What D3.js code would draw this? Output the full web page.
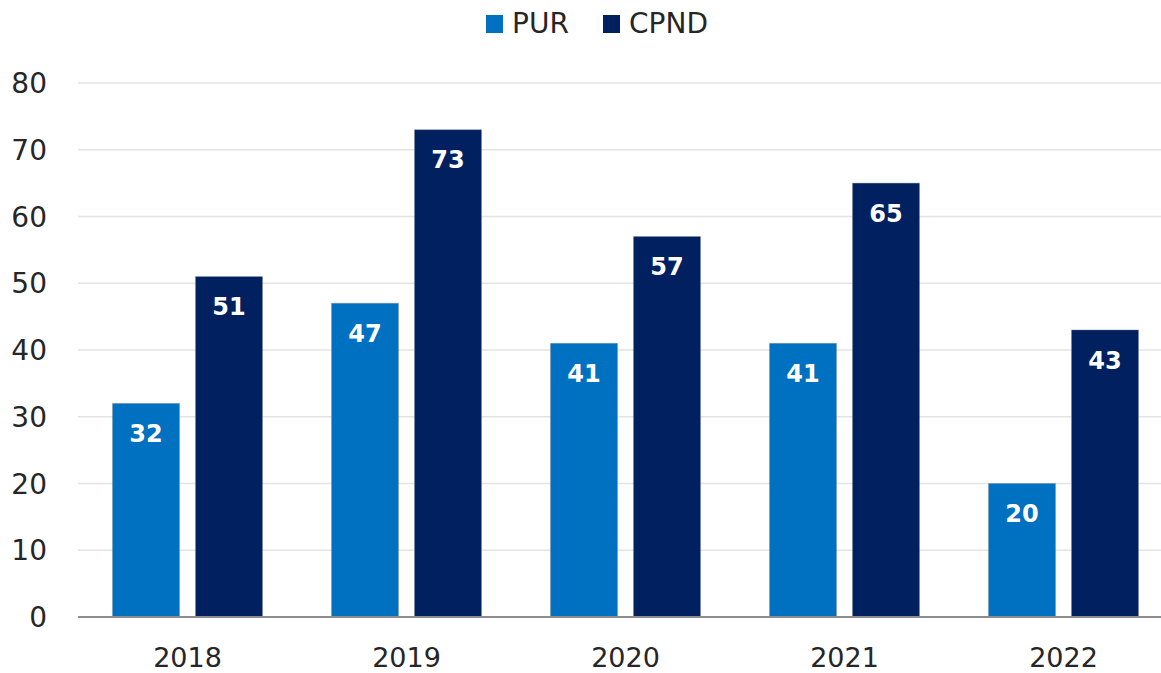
<!DOCTYPE html>
<html>
<head>
<meta charset="utf-8">
<script src="https://cdn.jsdelivr.net/npm/d3@7"></script>
<style>
  body { margin: 0; background: #fff; }
  svg text { font-family: "DejaVu Sans", sans-serif; }
</style>
</head>
<body>
<svg></svg>
<script>
// chart data
var years = ["2018", "2019", "2020", "2021", "2022"];
var seriesNames = ["PUR", "CPND"];
var purValues = [32, 47, 41, 41, 20];
var cpndValues = [51, 73, 57, 65, 43];
var yTicks = [0, 10, 20, 30, 40, 50, 60, 70, 80];
var colors = ["#0070C0", "#002060"];

var width = 1161, height = 673;
var svg = d3.select("svg").attr("width", width).attr("height", height);

var x = d3.scaleBand().domain(years).range([78, 1173]);
var xInner = d3.scaleBand().domain(seriesNames).range([34.5, 219 - 34.5]).paddingInner(16 / 83);
var y = d3.scaleLinear().domain([0, 80]).range([617, 83]);

// gridlines
svg.append("g").selectAll("line")
    .data(yTicks.filter(function(d) { return d > 0; }))
    .enter().append("line")
    .attr("x1", 78).attr("x2", width)
    .attr("y1", function(d) { return y(d); })
    .attr("y2", function(d) { return y(d); })
    .attr("stroke", "#e3e3e3").attr("stroke-width", 1.5);

// y axis labels
svg.append("g").selectAll("text")
    .data(yTicks)
    .enter().append("text")
    .attr("x", 47)
    .attr("y", function(d) { return y(d); })
    .attr("dy", "0.36em")
    .attr("text-anchor", "end")
    .attr("font-size", 28)
    .attr("fill", "#262626")
    .text(function(d) { return d; });

var rows = years.map(function(yr, i) {
    return { year: yr, vals: [
        { name: "PUR", v: purValues[i], c: colors[0] },
        { name: "CPND", v: cpndValues[i], c: colors[1] }
    ]};
});

var groups = svg.append("g").selectAll("g")
    .data(rows).enter().append("g")
    .attr("transform", function(d) { return "translate(" + x(d.year) + ",0)"; });

groups.selectAll("rect")
    .data(function(d) { return d.vals; })
    .enter().append("rect")
    .attr("x", function(d) { return xInner(d.name); })
    .attr("width", xInner.bandwidth())
    .attr("y", function(d) { return y(d.v); })
    .attr("height", function(d) { return y(0) - y(d.v); })
    .attr("fill", function(d) { return d.c; })
    .attr("stroke", "rgba(120,130,150,0.35)")
    .attr("stroke-width", 1);

groups.selectAll("text")
    .data(function(d) { return d.vals; })
    .enter().append("text")
    .attr("x", function(d) { return xInner(d.name) + xInner.bandwidth() / 2; })
    .attr("y", function(d) { return y(d.v) + 30; })
    .attr("dy", "0.36em")
    .attr("text-anchor", "middle")
    .attr("font-family", "Lato, sans-serif")
    .attr("font-size", 24)
    .attr("font-weight", "bold")
    .attr("fill", "#fff")
    .text(function(d) { return d.v; });

// axis line
svg.append("line")
    .attr("x1", 78).attr("x2", width)
    .attr("y1", y(0)).attr("y2", y(0))
    .attr("stroke", "#8c8c8c").attr("stroke-width", 2);

// x labels
svg.append("g").selectAll("text")
    .data(years).enter().append("text")
    .attr("x", function(d) { return x(d) + x.bandwidth() / 2; })
    .attr("y", 667)
    .attr("text-anchor", "middle")
    .attr("font-size", 27)
    .attr("fill", "#262626")
    .text(function(d) { return d; });

// legend
var legendX = [486, 603];
var legend = svg.append("g").selectAll("g")
    .data(seriesNames).enter().append("g")
    .attr("transform", function(d, i) { return "translate(" + legendX[i] + ",0)"; });
legend.append("rect")
    .attr("x", 0).attr("y", 15).attr("width", 17).attr("height", 18)
    .attr("fill", function(d, i) { return colors[i]; });
legend.append("text")
    .attr("x", 26).attr("y", 23).attr("dy", "0.36em")
    .attr("font-size", 28)
    .attr("fill", "#262626")
    .text(function(d) { return d; });
</script>
</body>
</html>
